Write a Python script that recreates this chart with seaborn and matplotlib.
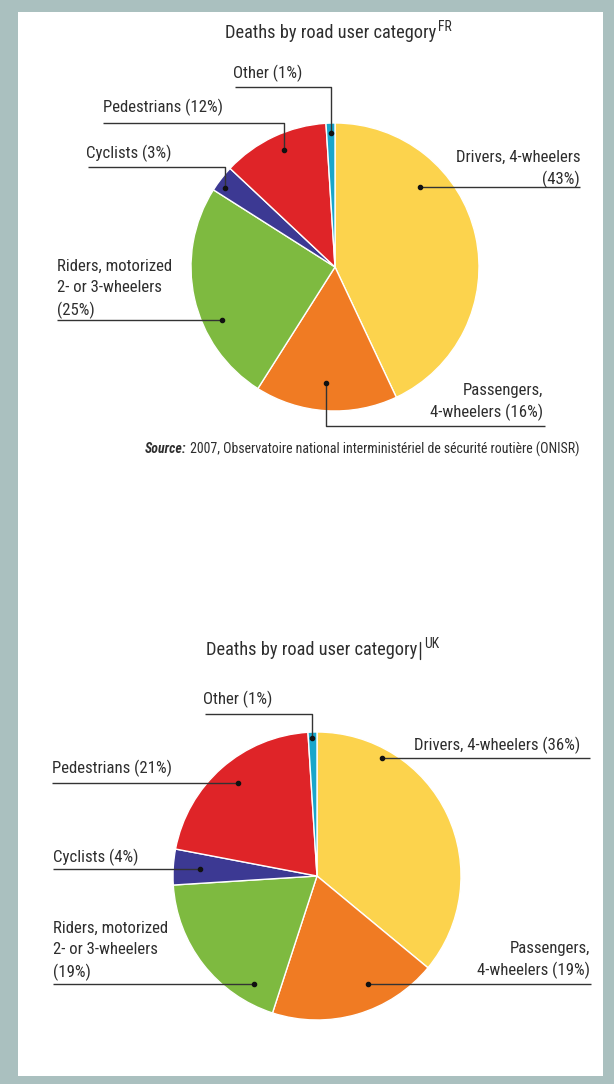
import matplotlib
matplotlib.use("Agg")
import matplotlib.pyplot as plt
from matplotlib import font_manager as fm
from matplotlib.patches import Rectangle
import seaborn as sns

# ---- data -------------------------------------------------------------
categories = ["Drivers, 4-wheelers", "Passengers, 4-wheelers",
              "Riders, motorized 2- or 3-wheelers", "Cyclists",
              "Pedestrians", "Other"]
fr_share = [43, 16, 25, 3, 12, 1]
uk_share = [36, 19, 19, 4, 21, 1]

fr_label_fmt = ["Drivers, 4-wheelers\n({}%)", "Passengers,\n4-wheelers ({}%)",
                "Riders, motorized\n2- or 3-wheelers\n({}%)", "Cyclists ({}%)",
                "Pedestrians ({}%)", "Other ({}%)"]
uk_label_fmt = ["Drivers, 4-wheelers ({}%)", "Passengers,\n4-wheelers ({}%)",
                "Riders, motorized\n2- or 3-wheelers\n({}%)", "Cyclists ({}%)",
                "Pedestrians ({}%)", "Other ({}%)"]

title_text = "Deaths by road user category"
fr_tag, uk_tag = "FR", "UK"
source_lead = "Source:"
source_rest = " 2007, Observatoire national interministériel de sécurité routière (ONISR)"

# ---- style ------------------------------------------------------------
sns.set_theme(style="white")


def pick_family():
    """Prefer a narrow sans face; fall back to a regular one."""
    entries = fm.fontManager.ttflist
    names = {e.name for e in entries}
    for nm in ["Liberation Sans Narrow", "Roboto Condensed",
               "Open Sans Condensed", "Noto Sans Condensed",
               "DejaVu Sans Condensed", "Arial Narrow"]:
        if nm in names:
            return nm, "normal"
    for pref in ["DejaVu Sans", "Noto Sans", "Open Sans", "Roboto"]:
        for e in entries:
            if e.name == pref and str(e.stretch) in ("condensed", "semi-condensed",
                                                     "extra-condensed"):
                return e.name, str(e.stretch)
    for nm in ["Roboto", "Lato", "Liberation Sans"]:
        if nm in names:
            return nm, "normal"
    return "DejaVu Sans", "normal"


family, stretch = pick_family()
plt.rcParams["font.family"] = [family, "DejaVu Sans"]
plt.rcParams["font.stretch"] = stretch

slice_colors = sns.color_palette(["#FCD34D", "#F07B23", "#7EBA40",
                                  "#3C3993", "#DF2428", "#19A6CA"])
text_color = "#2e2e2e"
frame_color = "#AAC0BF"

W, H = 614, 1084
fig = plt.figure(figsize=(W / 100, H / 100), dpi=100)
fig.patch.set_facecolor(frame_color)
ax = fig.add_axes([0, 0, 1, 1])
ax.set_facecolor("none")
renderer = fig.canvas.get_renderer()


def text_width(s, size, **kw):
    t = ax.text(0, 0, s, fontsize=size, **kw)
    w = t.get_window_extent(renderer).width
    t.remove()
    return w


# font sizes tuned so the text runs fill the same widths as the print layout
label_size = 10 * 165 / text_width("Drivers, 4-wheelers (36%)", 10)
title_size = 14 * 213 / text_width(title_text, 14)
source_size = 8.5 * 437 / (text_width(source_lead, 8.5, fontweight="bold",
                                      fontstyle="italic")
                           + text_width(source_rest, 8.5))
LINE_STEP = 22  # px between label lines

# white panel
ax.add_patch(Rectangle((18, 12), 585, 1064, facecolor="white",
                       edgecolor="none", zorder=0))

# ---- layout: pie placement and label leaders (pixel units, y down) ----
charts = [
    dict(values=fr_share, fmt=fr_label_fmt, center=(335, 267), radius=144,
         title_x=225, title_y=33, tag=fr_tag, bar=False,
         labels=[
             # first-line anchor, alignment, leader path (last point = dot)
             dict(xy=(580, 157), ha="right", path=[(580, 187), (420, 187)]),
             dict(xy=(543, 390), ha="right", path=[(545, 426), (326, 426), (326, 383)]),
             dict(xy=(57, 266), ha="left", path=[(57, 320), (222, 320)]),
             dict(xy=(86, 153), ha="left", path=[(88, 167), (225, 167), (225, 188)]),
             dict(xy=(103, 107), ha="left", path=[(103, 123), (284, 123), (284, 150)]),
             dict(xy=(233, 73), ha="left", path=[(235, 87), (331, 87), (331, 133)]),
         ]),
    dict(values=uk_share, fmt=uk_label_fmt, center=(317, 876), radius=144,
         title_x=206, title_y=650, tag=uk_tag, bar=True,
         labels=[
             dict(xy=(580, 745), ha="right", path=[(590, 758), (382, 758)]),
             dict(xy=(590, 948), ha="right", path=[(591, 984), (368, 984)]),
             dict(xy=(53, 928), ha="left", path=[(53, 984), (254, 984)]),
             dict(xy=(53, 857), ha="left", path=[(53, 869), (200, 869)]),
             dict(xy=(52, 768), ha="left", path=[(52, 783), (238, 783)]),
             dict(xy=(203, 699), ha="left", path=[(205, 714), (312, 714), (312, 738)]),
         ]),
]

for ch in charts:
    ax.pie(ch["values"], colors=slice_colors, center=ch["center"],
           radius=ch["radius"], startangle=-90, counterclock=True,
           wedgeprops=dict(edgecolor="white", linewidth=1.0))
    for v, fmt, lab in zip(ch["values"], ch["fmt"], ch["labels"]):
        x0, y0 = lab["xy"]
        for i, line in enumerate(fmt.format(v).split("\n")):
            ax.text(x0, y0 + i * LINE_STEP, line, ha=lab["ha"], va="center",
                    fontsize=label_size, color=text_color, zorder=5)
        xs = [p[0] for p in lab["path"]]
        ys = [p[1] for p in lab["path"]]
        ax.plot(xs, ys, color="#333333", lw=1.0, solid_capstyle="butt",
                zorder=4)
        ax.plot(xs[-1], ys[-1], "o", color="#111111", ms=3, zorder=6)

ax.set_xlim(0, W)
ax.set_ylim(H, 0)
ax.set_aspect("auto")
ax.axis("off")

# titles with superscript tags
for ch in charts:
    t = ax.text(ch["title_x"], ch["title_y"], title_text, ha="left",
                va="center", fontsize=title_size, color=text_color)
    x_end = t.get_window_extent(renderer).x1
    if ch["bar"]:
        ax.plot([x_end + 3, x_end + 3], [ch["title_y"] - 8, ch["title_y"] + 9],
                color=text_color, lw=1.0)
        x_end += 5
    ax.text(x_end + 2, ch["title_y"] - 6, ch["tag"], ha="left", va="center",
            fontsize=title_size * 0.75, color=text_color)

# source line under the first chart
s1 = ax.text(145, 449, source_lead, ha="left", va="center",
             fontsize=source_size, fontweight="bold", fontstyle="italic",
             color=text_color)
x_end = s1.get_window_extent(renderer).x1
ax.text(x_end, 449, source_rest, ha="left", va="center", fontsize=source_size,
        color=text_color)

fig.savefig("out.png", dpi=100, facecolor=fig.get_facecolor())
